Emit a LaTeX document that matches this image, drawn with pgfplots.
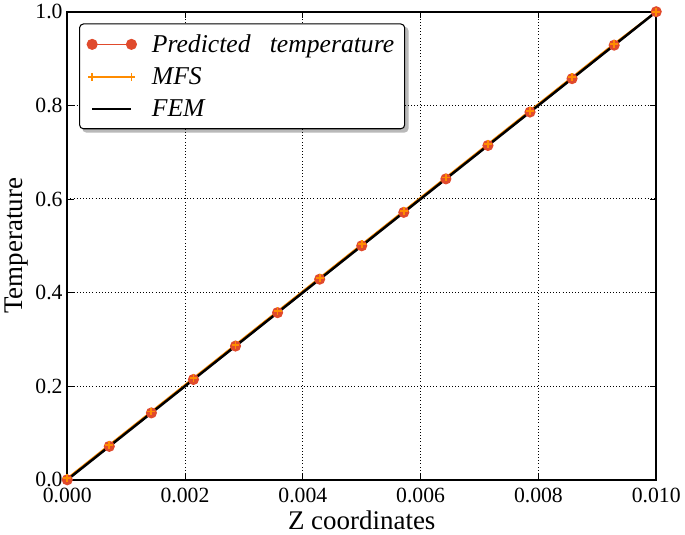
\documentclass[border=0pt]{standalone}
\usepackage{fontspec}
\setmainfont{Liberation Serif}
\usepackage{pgfplots}
\pgfplotsset{compat=1.18}
\definecolor{predred}{RGB}{224,74,44}
\definecolor{mfsorange}{RGB}{255,140,0}
\pgfdeclarelayer{bg}
\pgfsetlayers{bg,main}

\begin{document}
\begin{tikzpicture}
\begin{axis}[
    width=448pt, height=356pt,
    scale only axis,
    xmin=0, xmax=0.01, ymin=0, ymax=1,
    xtick={0,0.002,0.004,0.006,0.008,0.010},
    ytick={0,0.2,0.4,0.6,0.8,1.0},
    scaled x ticks=false,
    x tick label style={yshift=-3pt, /pgf/number format/.cd, fixed, fixed zerofill, precision=3},
    y tick label style={/pgf/number format/.cd, fixed, fixed zerofill, precision=1},
    /pgf/number format/assume math mode=true,
    tick label style={font=\fontsize{16.5}{19}\selectfont},
    tick align=inside,
    major tick length=5pt,
    tick style={black, line width=0.6pt},
    axis line style={black, line width=1.4pt},
    grid=major,
    grid style={black, dotted, line width=0.8pt},
    label style={font=\fontsize{20.5}{24}\selectfont},
    xlabel={Z coordinates},
    ylabel={Temperature},
    xlabel style={yshift=1pt},
    ylabel style={yshift=-1pt},
    legend style={name=legbox, at={(0.02,0.975)}, anchor=north west, draw=black,
        fill=white, rounded corners=3pt, line width=0.8pt,
        font=\fontsize{19.5}{23}\selectfont, row sep=6pt,
        inner xsep=6pt, inner ysep=6pt,
        /tikz/every odd column/.append style={column sep=0.35cm}},
    legend cell align=left,
    legend image code/.code={\draw[mark repeat=1,mark phase=1,#1]
        plot coordinates {(0cm,0cm) (1.05cm,0cm)};},
]
\addplot[predred, line width=1.2pt, mark=*, mark size=3.6pt,
    mark options={draw=predred, fill=predred}] coordinates {
    (0,0) (0.000714,0.0714) (0.001429,0.1429) (0.002143,0.2143) (0.002857,0.2857)
    (0.003571,0.3571) (0.004286,0.4286) (0.005,0.5) (0.005714,0.5714)
    (0.006429,0.6429) (0.007143,0.7143) (0.007857,0.7857) (0.008571,0.8571)
    (0.009286,0.9286) (0.01,1)};
\addlegendentry{\textit{Predicted\ \ \ temperature}}
\addplot[mfsorange, line width=1.4pt, mark=+, mark size=3pt] coordinates {
    (0,0.003) (0.000714,0.0744) (0.001429,0.1459) (0.002143,0.2173) (0.002857,0.2887)
    (0.003571,0.3601) (0.004286,0.4316) (0.005,0.503) (0.005714,0.5744)
    (0.006429,0.6459) (0.007143,0.7173) (0.007857,0.7887) (0.008571,0.8601)
    (0.009286,0.9316) (0.01,1)};
\addlegendentry{\textit{MFS}}
\addplot[black, line width=1.9pt] coordinates {
    (0,0) (0.002,0.2) (0.004,0.4) (0.006,0.6) (0.008,0.8) (0.01,1)};
\addlegendentry{\textit{FEM}}
\end{axis}
\begin{pgfonlayer}{bg}
\fill[gray!55, rounded corners=3pt] ([shift={(2.5pt,-2.5pt)}]legbox.south west)
    rectangle ([shift={(2.5pt,-2.5pt)}]legbox.north east);
\end{pgfonlayer}
\end{tikzpicture}
\end{document}
